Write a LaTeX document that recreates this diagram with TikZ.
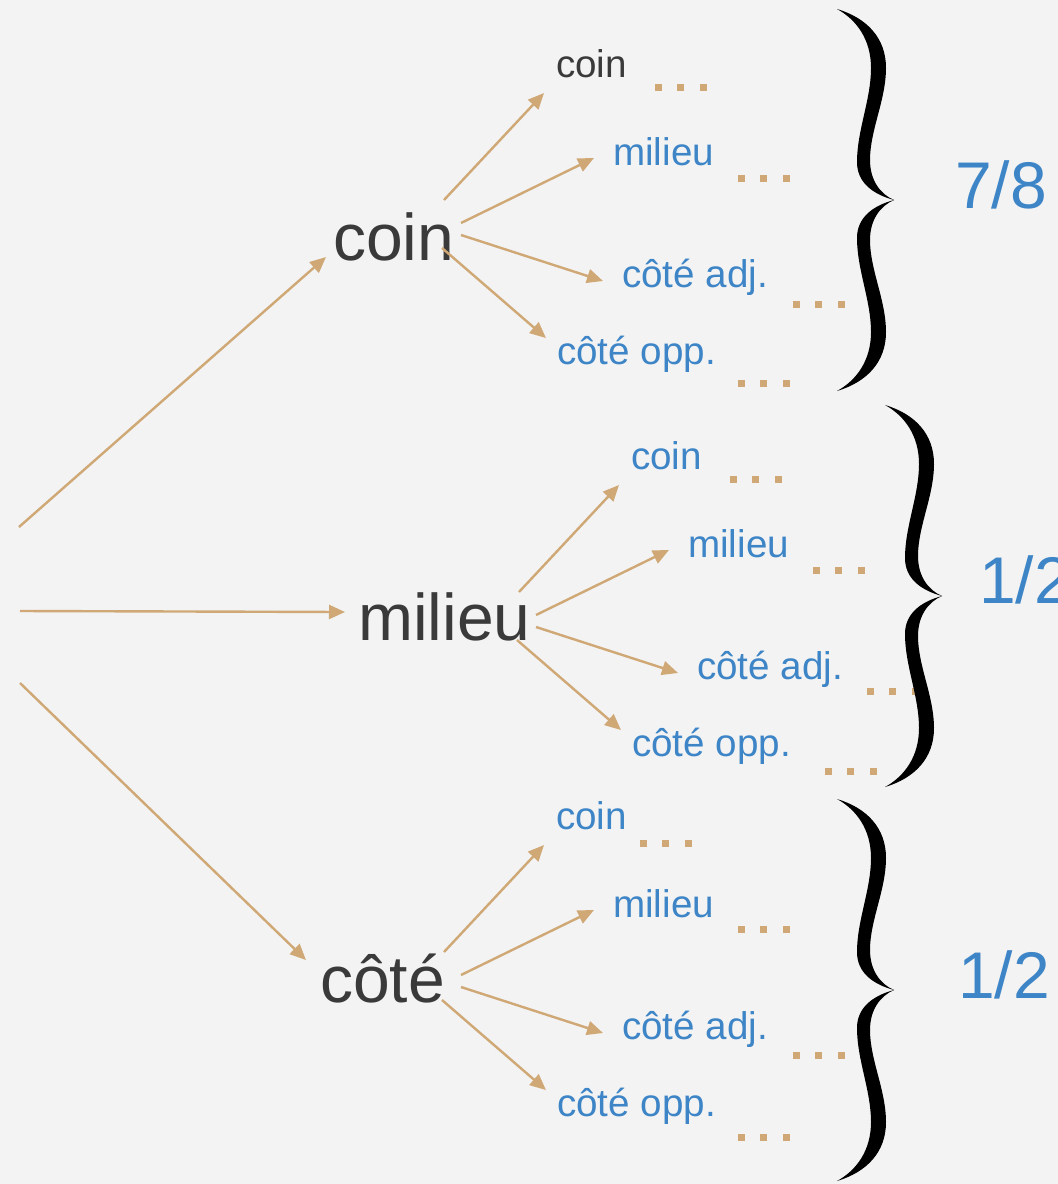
\documentclass[tikz,border=0pt]{standalone}
\usepackage{fontspec}
\setmainfont{Liberation Sans}
\usetikzlibrary{arrows.meta}
\definecolor{bg}{RGB}{243,243,243}
\definecolor{tan}{RGB}{207,168,117}
\definecolor{darktxt}{RGB}{58,58,58}
\definecolor{blutxt}{RGB}{61,133,198}
\tikzset{
  bigtxt/.style={anchor=base west, inner sep=0pt, text=darktxt, font=\fontsize{66}{70}\selectfont},
  smalltxt/.style={anchor=base west, inner sep=0pt, text=blutxt, font=\fontsize{38.6}{42}\selectfont},
  fractxt/.style={anchor=base west, inner sep=0pt, text=blutxt, font=\fontsize{66}{70}\selectfont},
  arr/.style={draw=tan, line width=2.4pt, -{Triangle[length=16pt,width=14pt]}},
  dotsq/.style={fill=tan},
  curly/.pic={
    \fill[black] (-55,-191) .. controls (-25,-182) and (-6,-162) .. (-6,-132)
      .. controls (-6,-100) and (-22,-70) .. (-22,-40)
      .. controls (-22,-20) and (-12,-6) .. (2,0)
      .. controls (-20,-6) and (-35,-18) .. (-35,-38)
      .. controls (-35,-70) and (-21,-100) .. (-21,-132)
      .. controls (-21,-160) and (-35,-180) .. (-55,-191) -- cycle;
    \fill[black,yscale=-1] (-55,-191) .. controls (-25,-182) and (-6,-162) .. (-6,-132)
      .. controls (-6,-100) and (-22,-70) .. (-22,-40)
      .. controls (-22,-20) and (-12,-6) .. (2,0)
      .. controls (-20,-6) and (-35,-18) .. (-35,-38)
      .. controls (-35,-70) and (-21,-100) .. (-21,-132)
      .. controls (-21,-160) and (-35,-180) .. (-55,-191) -- cycle;
  }
}
\newcommand\branchset[4]{%
  \begin{scope}[shift={(#2,#3)}]
    \node[smalltxt,text=#4] (#1c) at (556,77) {coin};
    \node[smalltxt] (#1m) at (613,165) {milieu};
    \node[smalltxt] (#1a) at (622,287) {côté adj.};
    \node[smalltxt] (#1o) at (557,364) {côté opp.};
    \coordinate (#1s1) at (444,200);
    \coordinate (#1s2) at (461,223);
    \coordinate (#1s3) at (461,235);
    \coordinate (#1s4) at (442,248);
    \coordinate (#1e1) at (544,93);
    \coordinate (#1e2) at (594,158);
    \coordinate (#1e3) at (603,281);
    \coordinate (#1e4) at (546,338);
    \draw[arr] (#1s1) -- (#1e1);
    \draw[arr] (#1s2) -- (#1e2);
    \draw[arr] (#1s3) -- (#1e3);
    \draw[arr] (#1s4) -- (#1e4);
  \end{scope}}
\newcommand\threedots[2]{%
  \foreach \k in {0,1,2} {\fill[dotsq] ({#1+22.5*\k-3.5},{#2-3.5}) rectangle ++(7,7);}}
\begin{document}
\begin{tikzpicture}[x=1pt,y=-1pt]
  \useasboundingbox (0,0) rectangle (1058,1184);
  \fill[bg] (0,0) rectangle (1058,1184);
  \clip (0,0) rectangle (1058,1184);

  % root arrows
  \coordinate (r1) at (19,527);
  \coordinate (r2) at (20,611);
  \coordinate (r3) at (20,683);
  \node[bigtxt] (pcoin) at (333,260) {coin};
  \node[bigtxt] (pmil) at (358,640) {milieu};
  \node[bigtxt] (pcote) at (320,1002) {côté};
  \coordinate (t1) at (326,257);
  \coordinate (t2) at (345,612);
  \coordinate (t3) at (306,960);
  \draw[arr] (r1) -- (t1);
  \draw[arr] (r2) -- (t2);
  \draw[arr] (r3) -- (t3);

  \branchset{a}{0}{0}{darktxt}
  \branchset{b}{75}{392}{blutxt}
  \branchset{c}{0}{752}{blutxt}

  % dots
  \threedots{658}{87}
  \threedots{741}{178}
  \threedots{796}{304}
  \threedots{741}{383}
  \threedots{733}{479}
  \threedots{816}{570}
  \threedots{870}{691}
  \threedots{828}{771}
  \threedots{643}{843}
  \threedots{741}{929}
  \threedots{796}{1055}
  \threedots{741}{1137}

  % braces
  \pic (br1) at (892,200) {curly};
  \pic (br2) at (940,596) {curly};
  \pic (br3) at (892,990) {curly};

  \node[fractxt] (f1) at (955,208) {7/8};
  \node[fractxt] (f2) at (979,603) {1/2};
  \node[fractxt] (f3) at (958,998) {1/2};
\end{tikzpicture}
\end{document}
